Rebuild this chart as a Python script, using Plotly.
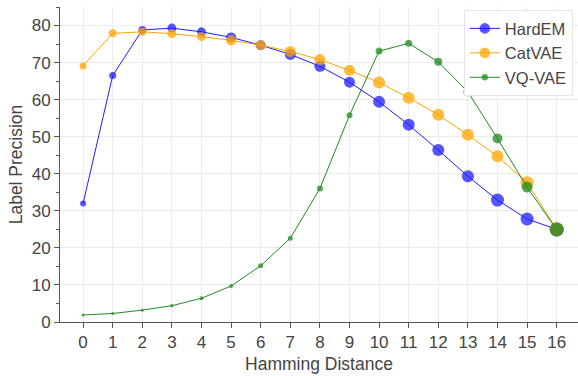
import plotly.graph_objects as go

hamming = list(range(17))
hardem = [32.0, 66.5, 78.8, 79.3, 78.3, 76.8, 74.7, 72.2, 69.0, 64.7, 59.4, 53.2, 46.4, 39.3, 32.9, 27.8, 25.0]
catvae = [69.1, 77.9, 78.3, 77.8, 77.0, 76.0, 74.7, 73.0, 70.8, 67.9, 64.6, 60.5, 55.9, 50.5, 44.7, 37.6, 25.0]
vqvae = [1.9, 2.3, 3.2, 4.4, 6.4, 9.7, 15.2, 22.6, 36.0, 55.8, 73.1, 75.2, 70.2, 62.1, 49.5, 36.4, 24.9]

hardem_size = [6, 7, 8, 9, 9, 10, 10, 11, 11, 11, 12, 12, 12, 12, 13, 13, 14]
catvae_size = [7, 8, 8, 9, 9, 10, 10, 11, 11, 11, 12, 12, 12, 12, 12, 13, 14]
vqvae_size = [3, 3, 3, 3.5, 4, 4, 5, 5, 6, 6, 7, 7, 8, 9, 10, 11, 14]

series = [
    ("HardEM", hardem, hardem_size, "rgb(30,30,255)"),
    ("CatVAE", catvae, catvae_size, "rgb(255,165,0)"),
    ("VQ-VAE", vqvae, vqvae_size, "rgb(34,139,34)"),
]

fig = go.Figure()
for name, ys, sizes, col in series:
    fig.add_trace(go.Scatter(
        x=hamming, y=ys, name=name, mode="lines+markers",
        line=dict(color=col, width=1),
        marker=dict(color=col, size=sizes, opacity=0.75, line=dict(width=0)),
    ))

axis_common = dict(
    showline=True, linecolor="#555", linewidth=1,
    ticks="outside", tickcolor="#555", ticklen=5,
    showgrid=True, gridcolor="#ebebeb", gridwidth=1,
    zeroline=False, automargin=False, tickfont=dict(size=17, color="#444"),
)

fig.update_layout(
    width=578, height=376,
    margin=dict(l=60, r=0, t=7, b=54),
    paper_bgcolor="white", plot_bgcolor="white",
    font=dict(family="Liberation Sans, Arial, sans-serif", color="#444"),
    xaxis=dict(range=[-0.78, 16.72], tickmode="array", tickvals=hamming,
               ticktext=[str(h) for h in hamming],
               title=dict(text="Hamming Distance", font=dict(size=17.5, color="#444"), standoff=6),
               **axis_common),
    yaxis=dict(range=[0, 85], dtick=10,
               title=dict(text="Label Precision", font=dict(size=17.5, color="#444"), standoff=4),
               minor=dict(dtick=5, ticks="outside", ticklen=3, tickcolor="#555", showgrid=False),
               **axis_common),
    legend=dict(x=0.99, y=0.99, xanchor="right", yanchor="top",
                bgcolor="white", bordercolor="#e6e6e6", borderwidth=1,
                itemwidth=30, tracegroupgap=0,
                font=dict(size=16.5, color="#444")),
    showlegend=True,
)

fig.write_html("out.html", config={"displayModeBar": False},
               post_script="document.body.style.margin='0';document.body.style.overflow='hidden';")
